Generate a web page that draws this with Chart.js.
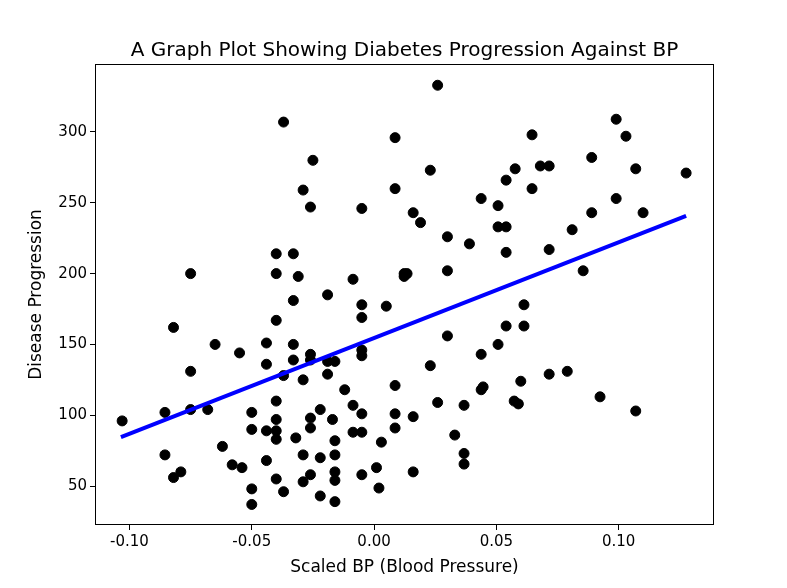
<!DOCTYPE html>
<html>
<head>
<meta charset="utf-8">
<script src="https://cdn.jsdelivr.net/npm/chart.js@4"></script>
<style>
  body { margin: 0; background: #fff; }
  #wrap { width: 787px; height: 588px; }
</style>
</head>
<body>
<div id="wrap"><canvas id="bpChart" width="787" height="588"></canvas></div>
<script>
// scaled BP values and disease progression
const bpValues = [
  -0.103, -0.0855, -0.0855, -0.082, -0.082, -0.079, -0.075, -0.075, -0.075, -0.068,
  -0.065, -0.062, -0.058, -0.054, -0.055, -0.050, -0.050, -0.050, -0.050, -0.044,
  -0.044, -0.044, -0.044, -0.040, -0.040, -0.040, -0.040, -0.040, -0.040, -0.040,
  -0.040, -0.037, -0.037, -0.037, -0.033, -0.033, -0.033, -0.033, -0.032, -0.031,
  -0.029, -0.029, -0.029, -0.029, -0.026, -0.026, -0.026, -0.026, -0.026, -0.026,
  -0.025, -0.022, -0.022, -0.022, -0.019, -0.019, -0.019, -0.017, -0.016, -0.016,
  -0.016, -0.016, -0.016, -0.016, -0.012, -0.0086, -0.0086, -0.0086, -0.005, -0.005,
  -0.005, -0.005, -0.005, -0.005, -0.005, -0.005, 0.001, 0.002, 0.003, 0.005,
  0.026, 0.0086, 0.0646, 0.099, 0.103, 0.023, 0.0086, 0.0577, 0.054, 0.068,
  0.0716, 0.089, 0.107, 0.1276, 0.0646, 0.0438, 0.0507, 0.089, 0.099, 0.110,
  0.016, 0.019, 0.0507, 0.054, 0.030, 0.039, 0.081, 0.054, 0.0716, 0.0123,
  0.0135, 0.0123, 0.030, 0.0855, 0.0613, 0.054, 0.0613, 0.030, 0.0438, 0.0507,
  0.023, 0.0086, 0.060, 0.0716, 0.079, 0.0446, 0.0438, 0.026, 0.0368, 0.0573,
  0.059, 0.0924, 0.107, 0.0086, 0.0086, 0.016, 0.033, 0.0368, 0.0368, 0.016
];
const progression = [
  96, 102, 72, 162, 56, 60, 200, 131, 104, 104,
  150, 78, 65, 63, 144, 102, 90, 48, 37, 151,
  136, 89, 68, 214, 200, 167, 110, 97, 89, 83,
  55, 128, 307, 46, 214, 181, 150, 139, 84, 198,
  125, 259, 72, 53, 247, 143, 139, 98, 91, 58,
  280, 104, 70, 43, 185, 138, 129, 97, 138, 82,
  72, 60, 54, 39, 118, 196, 107, 88, 146, 142,
  178, 169, 246, 101, 88, 58, 63, 48.6, 81, 177,
  333, 296, 298, 309, 297, 273, 260, 274, 266, 276,
  276, 282, 274, 271, 260, 253, 248, 243, 253, 243,
  243, 236, 233, 233, 226, 221, 231, 215, 217, 200,
  200, 198, 202, 202, 178, 163, 163, 156, 143, 150,
  135, 121, 124, 129, 131, 120, 118, 109, 107, 110,
  108, 113, 103, 101, 91, 99, 86, 73, 65.5, 60
];
// fitted regression line end points
const fitX = [-0.1035, 0.1276];
const fitY = [84.6, 240.7];

const xTicks = [-0.10, -0.05, 0.00, 0.05, 0.10];
const yTicks = [50, 100, 150, 200, 250, 300];

const FONT = 'DejaVu Sans';

// matplotlib style frame + title
const framePlugin = {
  id: 'frame',
  afterDraw(chart) {
    const { ctx, chartArea: a } = chart;
    ctx.save();
    ctx.strokeStyle = '#000';
    ctx.lineWidth = 1;
    ctx.strokeRect(a.left + 0.5, a.top + 0.5, a.right - a.left - 1, a.bottom - a.top - 1);
    ctx.fillStyle = '#000';
    ctx.font = '20px "' + FONT + '"';
    ctx.textAlign = 'center';
    ctx.textBaseline = 'alphabetic';
    ctx.fillText('A Graph Plot Showing Diabetes Progression Against BP', (a.left + a.right) / 2, a.top - 8);
    ctx.restore();
  }
};

new Chart(document.getElementById('bpChart').getContext('2d'), {
  type: 'scatter',
  data: {
    datasets: [
      {
        label: 'Data',
        data: bpValues.map((x, i) => ({ x: x, y: progression[i] })),
        backgroundColor: '#000',
        borderColor: '#000',
        pointRadius: 5,
        pointHoverRadius: 5,
        order: 2
      },
      {
        label: 'Fit',
        type: 'line',
        data: fitX.map((x, i) => ({ x: x, y: fitY[i] })),
        borderColor: '#0000ff',
        borderWidth: 4,
        pointRadius: 0,
        fill: false,
        order: 1
      }
    ]
  },
  options: {
    responsive: false,
    animation: false,
    layout: { padding: { top: 64, right: 73, left: 22, bottom: 6 } },
    plugins: { legend: { display: false }, tooltip: { enabled: false } },
    scales: {
      x: {
        type: 'linear',
        min: -0.1141,
        max: 0.139,
        afterBuildTicks: s => { s.ticks = xTicks.map(v => ({ value: v })); },
        afterFit: s => { s.height = 57; },
        grid: { drawOnChartArea: false, tickLength: 5, tickColor: '#000' },
        border: { display: false },
        ticks: {
          color: '#000', font: { family: FONT, size: 15 }, padding: 3,
          callback: v => v.toFixed(2)
        },
        title: { display: true, text: 'Scaled BP (Blood Pressure)', color: '#000', font: { family: FONT, size: 17 }, padding: { top: 4 } }
      },
      y: {
        min: 22.5,
        max: 348,
        afterBuildTicks: s => { s.ticks = yTicks.map(v => ({ value: v })); },
        afterFit: s => { s.width = 73; },
        grid: { drawOnChartArea: false, tickLength: 5, tickColor: '#000' },
        border: { display: false },
        ticks: { color: '#000', font: { family: FONT, size: 15 }, padding: 3 },
        title: { display: true, text: 'Disease Progression', color: '#000', font: { family: FONT, size: 17 }, padding: { bottom: 4 } }
      }
    }
  },
  plugins: [framePlugin]
});
</script>
</body>
</html>
